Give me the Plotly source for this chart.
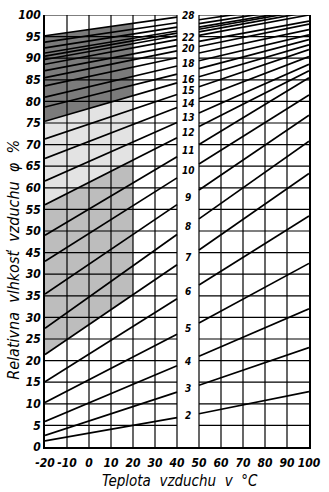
import numpy as np
import plotly.graph_objects as go

# ---- data ----
moisture = list(range(2, 29))  # wood moisture lines 2..28
rh_at_m20 = [1.4, 2.7, 5.9, 10.3, 15.1, 21.4, 27.5, 35.4, 43.0, 49.0, 56.1, 61.6, 66.8, 71.3,
             75.4, 78.7, 81.0, 83.6, 85.5, 87.1, 88.6, 89.7, 90.5, 91.2, 92.4, 93.7, 95.2]
rh_at_40 = [6.8, 12.7, 18.8, 26.1, 34.3, 42.2, 49.2, 56.1, 62.3, 67.2, 71.6, 75.1, 78.6, 81.6,
            84.3, 86.3, 88.2, 90.1, 91.7, 92.9, 94.3, 95.2, 95.8, 96.3, 97.2, 98.2, 99.5]
rh_at_50 = [7.7, 14.3, 21.0, 28.7, 37.5, 45.6, 52.8, 59.5, 65.5, 70.0, 74.2, 77.3, 80.6, 83.4,
            85.7, 87.6, 89.4, 91.2, 92.7, 93.9, 95.3, 96.1, 96.7, 97.2, 98.0, 98.9, 100.2]
rh_at_100 = [12.8, 23.0, 32.0, 42.5, 53.5, 63.3, 70.8, 76.8, 81.5, 85.5, 87.1, 88.6, 90.4, 92.0,
             93.1, 94.3, 95.4, 96.6, 97.9, 98.6, 100.0, 100.7, 101.2, 101.5, 102.0, 102.6, 103.7]
labelled = [2, 3, 4, 5, 6, 7, 8, 9, 10, 11, 12, 13, 14, 15, 16, 18, 20, 22, 28]

x_ticks = [-20, -10, 0, 10, 20, 30, 40, 50, 60, 70, 80, 90, 100]
x_ticktext = ["-20", "-10", "0", "10", "20", "30", "40", "50", "60", "70", "80", "90", "100"]
y_ticks = list(range(0, 101, 5))
y_ticktext = ["0", "5", "10", "15", "20", "25", "30", "35", "30", "45", "50", "55", "60",
              "65", "70", "75", "80", "85", "90", "95", "100"]

# shaded zones: (lower line, upper line, colour), spanning -20..20 °C
zones = [(7, 12, "#bdbdbd"), (12, 16, "#e3e3e3"), (16, 28, "#7b7b7b")]
zone_x = [-20, 20]

FONT = "Liberation Sans Narrow, DejaVu Sans Condensed, Arial Narrow, Liberation Sans, sans-serif"

fig = go.Figure()

def left_val(m, x):
    i = moisture.index(m)
    return float(np.interp(x, [-20, 40], [rh_at_m20[i], rh_at_40[i]]))

for lo, hi, col in zones:
    xs = [zone_x[0], zone_x[1], zone_x[1], zone_x[0]]
    ys = [left_val(lo, zone_x[0]), left_val(lo, zone_x[1]),
          left_val(hi, zone_x[1]), left_val(hi, zone_x[0])]
    fig.add_trace(go.Scatter(x=xs, y=ys, fill="toself", fillcolor=col, mode="none",
                             hoverinfo="skip", showlegend=False))

# horizontal grid (broken in the 40..50 label column)
gx, gy = [], []
for yv in y_ticks[1:]:
    gx += [-20, 40, None, 50, 100, None]
    gy += [yv, yv, None, yv, yv, None]
# vertical grid
for xv in x_ticks[1:-1]:
    gx += [xv, xv, None]
    gy += [0, 100, None]
fig.add_trace(go.Scatter(x=gx, y=gy, mode="lines", line=dict(color="black", width=1.2),
                         hoverinfo="skip", showlegend=False))

# moisture lines
lx, ly = [], []
for i in range(len(moisture)):
    lx += [-20, 40, None, 50, 100, None]
    ly += [rh_at_m20[i], rh_at_40[i], None, rh_at_50[i], rh_at_100[i], None]
fig.add_trace(go.Scatter(x=lx, y=ly, mode="lines", line=dict(color="black", width=1.7),
                         hoverinfo="skip", showlegend=False))

for m in labelled:
    i = moisture.index(m)
    fig.add_annotation(x=45, y=(rh_at_40[i] + rh_at_50[i]) / 2, text=str(m), showarrow=False,
                       font=dict(family=FONT, size=10, color="black", style="italic",
                                 weight="bold"),
                       borderpad=0, xanchor="center", yanchor="middle")

fig.add_annotation(xref="paper", yref="paper", x=-0.118, y=0.433,
                   text="Relativna  vlhkosť  vzduchu  φ  %", textangle=-90, showarrow=False,
                   font=dict(family=FONT, size=16, color="black", style="italic"),
                   xanchor="center", yanchor="middle")
fig.add_annotation(xref="paper", yref="paper", x=0.512, y=-0.078,
                   text="Teplota  vzduchu  v  °C", showarrow=False,
                   font=dict(family=FONT, size=15, color="black", style="italic"),
                   xanchor="center", yanchor="middle")

fig.update_layout(
    width=329, height=492,
    margin=dict(l=45, r=12, t=8, b=45),
    paper_bgcolor="white", plot_bgcolor="white",
    font=dict(family=FONT, color="black"),
    showlegend=False,
)
fig.update_xaxes(range=[-20, 100], tickvals=x_ticks, ticktext=x_ticktext, showgrid=False,
                 zeroline=False, showline=True, linecolor="black", linewidth=1.5, mirror=False,
                 ticks="", tickangle=0, ticklabelstandoff=4,
                 tickfont=dict(family=FONT, size=12, style="italic", weight="bold"))
fig.update_yaxes(range=[0, 100], tickvals=y_ticks, ticktext=y_ticktext, showgrid=False,
                 zeroline=False, showline=True, linecolor="black", linewidth=1.5, mirror=True,
                 ticks="", tickfont=dict(family=FONT, size=12, style="italic", weight="bold"))

fig.write_html("out.html")
